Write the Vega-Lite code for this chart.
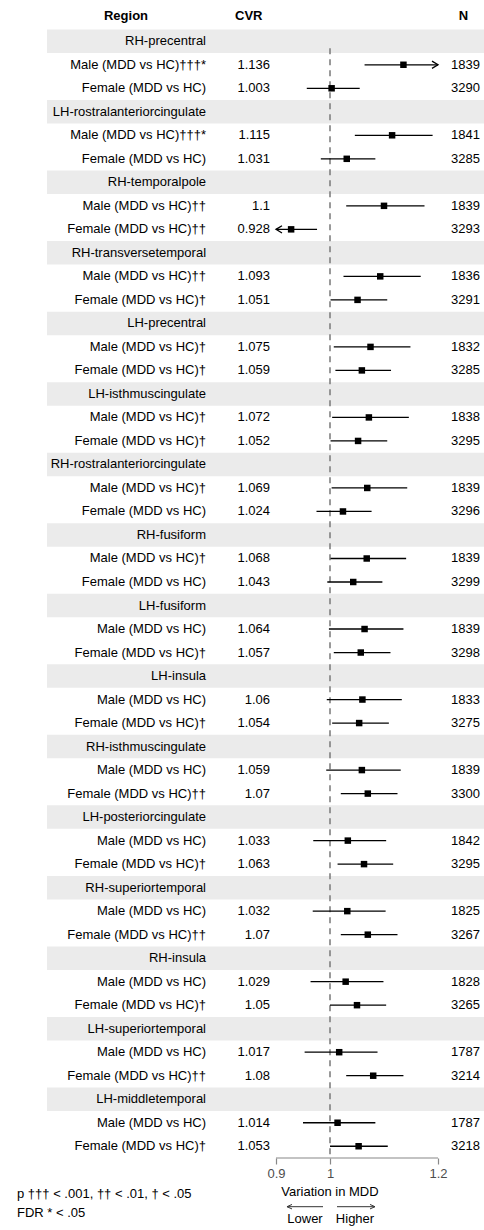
{
  "$schema": "https://vega.github.io/schema/vega-lite/v6.json",
  "width": 484,
  "height": 1152,
  "autosize": {"type": "none"},
  "padding": {"top": 6, "left": 0, "right": 0, "bottom": 72},
  "background": "white",
  "config": {
    "font": "Liberation Sans",
    "view": {"stroke": null},
    "text": {"fontSize": 13, "color": "#000000"},
    "axisX": {
      "labelFontSize": 13, "labelColor": "#4D4D4D", "labelFont": "Liberation Sans",
      "labelPadding": 3, "tickSize": 6, "tickColor": "#888888", "tickWidth": 1.2,
      "grid": false, "domain": false
    }
  },
  "datasets": {
    "rows": [
      {"idx": 0, "label": "RH-precentral"},
      {"idx": 1, "label": "Male (MDD vs HC)†††*", "cvr": 1.136, "lo": 1.064, "hi": 1.2, "n": 1839},
      {"idx": 2, "label": "Female (MDD vs HC)", "cvr": 1.003, "lo": 0.957, "hi": 1.055, "n": 3290},
      {"idx": 3, "label": "LH-rostralanteriorcingulate"},
      {"idx": 4, "label": "Male (MDD vs HC)†††*", "cvr": 1.115, "lo": 1.046, "hi": 1.19, "n": 1841},
      {"idx": 5, "label": "Female (MDD vs HC)", "cvr": 1.031, "lo": 0.983, "hi": 1.084, "n": 3285},
      {"idx": 6, "label": "RH-temporalpole"},
      {"idx": 7, "label": "Male (MDD vs HC)††", "cvr": 1.1, "lo": 1.03, "hi": 1.175, "n": 1839},
      {"idx": 8, "label": "Female (MDD vs HC)††", "cvr": 0.928, "lo": 0.9, "hi": 0.976, "n": 3293},
      {"idx": 9, "label": "RH-transversetemporal"},
      {"idx": 10, "label": "Male (MDD vs HC)††", "cvr": 1.093, "lo": 1.025, "hi": 1.168, "n": 1836},
      {"idx": 11, "label": "Female (MDD vs HC)†", "cvr": 1.051, "lo": 1.001, "hi": 1.106, "n": 3291},
      {"idx": 12, "label": "LH-precentral"},
      {"idx": 13, "label": "Male (MDD vs HC)†", "cvr": 1.075, "lo": 1.007, "hi": 1.149, "n": 1832},
      {"idx": 14, "label": "Female (MDD vs HC)†", "cvr": 1.059, "lo": 1.01, "hi": 1.113, "n": 3285},
      {"idx": 15, "label": "LH-isthmuscingulate"},
      {"idx": 16, "label": "Male (MDD vs HC)†", "cvr": 1.072, "lo": 1.004, "hi": 1.146, "n": 1838},
      {"idx": 17, "label": "Female (MDD vs HC)†", "cvr": 1.052, "lo": 1.001, "hi": 1.106, "n": 3295},
      {"idx": 18, "label": "RH-rostralanteriorcingulate"},
      {"idx": 19, "label": "Male (MDD vs HC)†", "cvr": 1.069, "lo": 1.003, "hi": 1.143, "n": 1839},
      {"idx": 20, "label": "Female (MDD vs HC)", "cvr": 1.024, "lo": 0.975, "hi": 1.077, "n": 3296},
      {"idx": 21, "label": "RH-fusiform"},
      {"idx": 22, "label": "Male (MDD vs HC)†", "cvr": 1.068, "lo": 1.001, "hi": 1.141, "n": 1839},
      {"idx": 23, "label": "Female (MDD vs HC)", "cvr": 1.043, "lo": 0.995, "hi": 1.097, "n": 3299},
      {"idx": 24, "label": "LH-fusiform"},
      {"idx": 25, "label": "Male (MDD vs HC)", "cvr": 1.064, "lo": 0.998, "hi": 1.136, "n": 1839},
      {"idx": 26, "label": "Female (MDD vs HC)†", "cvr": 1.057, "lo": 1.007, "hi": 1.112, "n": 3298},
      {"idx": 27, "label": "LH-insula"},
      {"idx": 28, "label": "Male (MDD vs HC)", "cvr": 1.06, "lo": 0.994, "hi": 1.133, "n": 1833},
      {"idx": 29, "label": "Female (MDD vs HC)†", "cvr": 1.054, "lo": 1.004, "hi": 1.109, "n": 3275},
      {"idx": 30, "label": "RH-isthmuscingulate"},
      {"idx": 31, "label": "Male (MDD vs HC)", "cvr": 1.059, "lo": 0.993, "hi": 1.131, "n": 1839},
      {"idx": 32, "label": "Female (MDD vs HC)††", "cvr": 1.07, "lo": 1.02, "hi": 1.125, "n": 3300},
      {"idx": 33, "label": "LH-posteriorcingulate"},
      {"idx": 34, "label": "Male (MDD vs HC)", "cvr": 1.033, "lo": 0.969, "hi": 1.104, "n": 1842},
      {"idx": 35, "label": "Female (MDD vs HC)†", "cvr": 1.063, "lo": 1.014, "hi": 1.117, "n": 3295},
      {"idx": 36, "label": "RH-superiortemporal"},
      {"idx": 37, "label": "Male (MDD vs HC)", "cvr": 1.032, "lo": 0.968, "hi": 1.103, "n": 1825},
      {"idx": 38, "label": "Female (MDD vs HC)††", "cvr": 1.07, "lo": 1.02, "hi": 1.125, "n": 3267},
      {"idx": 39, "label": "RH-insula"},
      {"idx": 40, "label": "Male (MDD vs HC)", "cvr": 1.029, "lo": 0.964, "hi": 1.099, "n": 1828},
      {"idx": 41, "label": "Female (MDD vs HC)†", "cvr": 1.05, "lo": 1.0, "hi": 1.104, "n": 3265},
      {"idx": 42, "label": "LH-superiortemporal"},
      {"idx": 43, "label": "Male (MDD vs HC)", "cvr": 1.017, "lo": 0.953, "hi": 1.088, "n": 1787},
      {"idx": 44, "label": "Female (MDD vs HC)††", "cvr": 1.08, "lo": 1.03, "hi": 1.136, "n": 3214},
      {"idx": 45, "label": "LH-middletemporal"},
      {"idx": 46, "label": "Male (MDD vs HC)", "cvr": 1.014, "lo": 0.95, "hi": 1.084, "n": 1787},
      {"idx": 47, "label": "Female (MDD vs HC)†", "cvr": 1.053, "lo": 1.0, "hi": 1.107, "n": 3218}
    ]
  },
  "layer": [
    {
      "data": {"name": "rows"},
      "transform": [{"filter": "!isValid(datum.cvr)"}],
      "mark": {"type": "rect", "color": "#EBEBEB"},
      "encoding": {
        "x": {
          "datum": 0.4759, "type": "quantitative",
          "scale": {"domain": [0.388889, 1.285185], "nice": false, "zero": false},
          "axis": {
            "values": [0.9, 1, 1.2], "format": "~g", "title": null, "grid": false,
            "domain": false, "ticks": true, "tickSize": 6, "tickColor": "#888888", "tickWidth": 1.2,
            "labelFontSize": 13, "labelColor": "#4D4D4D", "labelPadding": 3, "labelFont": "Liberation Sans"
          }
        },
        "x2": {"datum": 1.285185},
        "y": {
          "field": "idx", "type": "ordinal", "axis": null,
          "scale": {"domain": [-1,0,1,2,3,4,5,6,7,8,9,10,11,12,13,14,15,16,17,18,19,20,21,22,23,24,25,26,27,28,29,30,31,32,33,34,35,36,37,38,39,40,41,42,43,44,45,46,47], "paddingInner": 0, "paddingOuter": 0}
        }
      }
    },
    {
      "data": {"values": [{"ref": 1}]},
      "mark": {"type": "rule", "color": "#808080", "strokeWidth": 1.6, "strokeDash": [6, 5], "yOffset": 7},
      "encoding": {
        "x": {"field": "ref", "type": "quantitative", "title": null},
        "y": {"datum": 0, "type": "ordinal", "axis": null},
        "y2": {"value": "height"}
      }
    },
    {
      "data": {"name": "rows"},
      "transform": [{"filter": "isValid(datum.cvr)"}],
      "mark": {"type": "rule", "color": "#000000", "strokeWidth": 1.3},
      "encoding": {
        "x": {"field": "lo", "type": "quantitative", "title": null},
        "x2": {"field": "hi"},
        "y": {"field": "idx", "type": "ordinal", "axis": null}
      }
    },
    {
      "data": {"name": "rows"},
      "transform": [{"filter": "isValid(datum.cvr)"}],
      "mark": {"type": "point", "shape": "square", "filled": true, "color": "#000000", "size": 42, "opacity": 1},
      "encoding": {
        "x": {"field": "cvr", "type": "quantitative", "title": null},
        "y": {"field": "idx", "type": "ordinal", "axis": null}
      }
    },
    {
      "data": {"name": "rows"},
      "transform": [{"filter": "isValid(datum.cvr) && datum.hi >= 1.2"}],
      "mark": {"type": "point", "shape": "M-1,-0.6L0,0L-1,0.6", "filled": false, "color": "#000000", "strokeWidth": 1.3, "size": 144, "opacity": 1},
      "encoding": {
        "x": {"field": "hi", "type": "quantitative", "title": null},
        "y": {"field": "idx", "type": "ordinal", "axis": null}
      }
    },
    {
      "data": {"name": "rows"},
      "transform": [{"filter": "isValid(datum.cvr) && datum.lo <= 0.9"}],
      "mark": {"type": "point", "shape": "M1,-0.6L0,0L1,0.6", "filled": false, "color": "#000000", "strokeWidth": 1.3, "size": 144, "opacity": 1},
      "encoding": {
        "x": {"field": "lo", "type": "quantitative", "title": null},
        "y": {"field": "idx", "type": "ordinal", "axis": null}
      }
    },
    {
      "data": {"name": "rows"},
      "mark": {"type": "text", "align": "right", "baseline": "middle", "fontSize": 13},
      "encoding": {
        "x": {"datum": 0.7704, "type": "quantitative"},
        "y": {"field": "idx", "type": "ordinal", "axis": null},
        "text": {"field": "label", "type": "nominal"}
      }
    },
    {
      "data": {"name": "rows"},
      "transform": [{"filter": "isValid(datum.cvr)"}],
      "mark": {"type": "text", "align": "right", "baseline": "middle", "fontSize": 13},
      "encoding": {
        "x": {"datum": 0.8889, "type": "quantitative"},
        "y": {"field": "idx", "type": "ordinal", "axis": null},
        "text": {"field": "cvr", "type": "nominal"}
      }
    },
    {
      "data": {"name": "rows"},
      "transform": [{"filter": "isValid(datum.cvr)"}],
      "mark": {"type": "text", "align": "right", "baseline": "middle", "fontSize": 13},
      "encoding": {
        "x": {"datum": 1.2778, "type": "quantitative"},
        "y": {"field": "idx", "type": "ordinal", "axis": null},
        "text": {"field": "n", "type": "nominal"}
      }
    },
    {
      "data": {"values": [{"t": "Region"}]},
      "mark": {"type": "text", "align": "center", "baseline": "middle", "fontSize": 13, "fontWeight": "bold", "dy": -2},
      "encoding": {
        "x": {"datum": 0.6222, "type": "quantitative"},
        "y": {"datum": -1, "type": "ordinal", "axis": null},
        "text": {"field": "t", "type": "nominal"}
      }
    },
    {
      "data": {"values": [{"t": "CVR"}]},
      "mark": {"type": "text", "align": "left", "baseline": "middle", "fontSize": 13, "fontWeight": "bold", "dy": -2},
      "encoding": {
        "x": {"datum": 0.8241, "type": "quantitative"},
        "y": {"datum": -1, "type": "ordinal", "axis": null},
        "text": {"field": "t", "type": "nominal"}
      }
    },
    {
      "data": {"values": [{"t": "N"}]},
      "mark": {"type": "text", "align": "center", "baseline": "middle", "fontSize": 13, "fontWeight": "bold", "dy": -2},
      "encoding": {
        "x": {"datum": 1.2472, "type": "quantitative"},
        "y": {"datum": -1, "type": "ordinal", "axis": null},
        "text": {"field": "t", "type": "nominal"}
      }
    },
    {
      "data": {"values": [{"a": 0.9, "b": 1.2}]},
      "mark": {"type": "rule", "color": "#888888", "strokeWidth": 1.2},
      "encoding": {
        "x": {"field": "a", "type": "quantitative", "title": null},
        "x2": {"field": "b"},
        "y": {"value": "height"}
      }
    },
    {
      "data": {"values": [{"t": "Variation in MDD"}]},
      "mark": {"type": "text", "align": "center", "baseline": "middle", "fontSize": 13, "dy": 34},
      "encoding": {
        "x": {"datum": 1, "type": "quantitative"},
        "y": {"value": "height"},
        "text": {"field": "t", "type": "nominal"}
      }
    },
    {
      "data": {"values": [{"a": 0.92037, "b": 0.987037}, {"a": 1.012963, "b": 1.083333}]},
      "mark": {"type": "rule", "color": "#333333", "strokeWidth": 1, "yOffset": 48.7},
      "encoding": {
        "x": {"field": "a", "type": "quantitative", "title": null},
        "x2": {"field": "b"},
        "y": {"value": "height"}
      }
    },
    {
      "data": {"values": [{"a": 0.92037}]},
      "mark": {"type": "point", "shape": "M1,-0.45L0,0L1,0.45", "filled": false, "color": "#333333", "strokeWidth": 1, "size": 100, "opacity": 1, "yOffset": 48.7},
      "encoding": {
        "x": {"field": "a", "type": "quantitative", "title": null},
        "y": {"value": "height"}
      }
    },
    {
      "data": {"values": [{"a": 1.083333}]},
      "mark": {"type": "point", "shape": "M-1,-0.45L0,0L-1,0.45", "filled": false, "color": "#333333", "strokeWidth": 1, "size": 100, "opacity": 1, "yOffset": 48.7},
      "encoding": {
        "x": {"field": "a", "type": "quantitative", "title": null},
        "y": {"value": "height"}
      }
    },
    {
      "data": {"values": [{"t": "Lower"}]},
      "mark": {"type": "text", "align": "center", "baseline": "middle", "fontSize": 13, "dy": 61.3},
      "encoding": {
        "x": {"datum": 0.9537, "type": "quantitative"},
        "y": {"value": "height"},
        "text": {"field": "t", "type": "nominal"}
      }
    },
    {
      "data": {"values": [{"t": "Higher"}]},
      "mark": {"type": "text", "align": "center", "baseline": "middle", "fontSize": 13, "dy": 61.3},
      "encoding": {
        "x": {"datum": 1.0463, "type": "quantitative"},
        "y": {"value": "height"},
        "text": {"field": "t", "type": "nominal"}
      }
    },
    {
      "data": {"values": [{"t": "p ††† < .001, †† < .01, † < .05"}]},
      "mark": {"type": "text", "align": "left", "baseline": "middle", "fontSize": 13, "dy": 36},
      "encoding": {
        "x": {"datum": 0.4204, "type": "quantitative"},
        "y": {"value": "height"},
        "text": {"field": "t", "type": "nominal"}
      }
    },
    {
      "data": {"values": [{"t": "FDR * < .05"}]},
      "mark": {"type": "text", "align": "left", "baseline": "middle", "fontSize": 13, "dy": 54.7},
      "encoding": {
        "x": {"datum": 0.4204, "type": "quantitative"},
        "y": {"value": "height"},
        "text": {"field": "t", "type": "nominal"}
      }
    }
  ]
}
